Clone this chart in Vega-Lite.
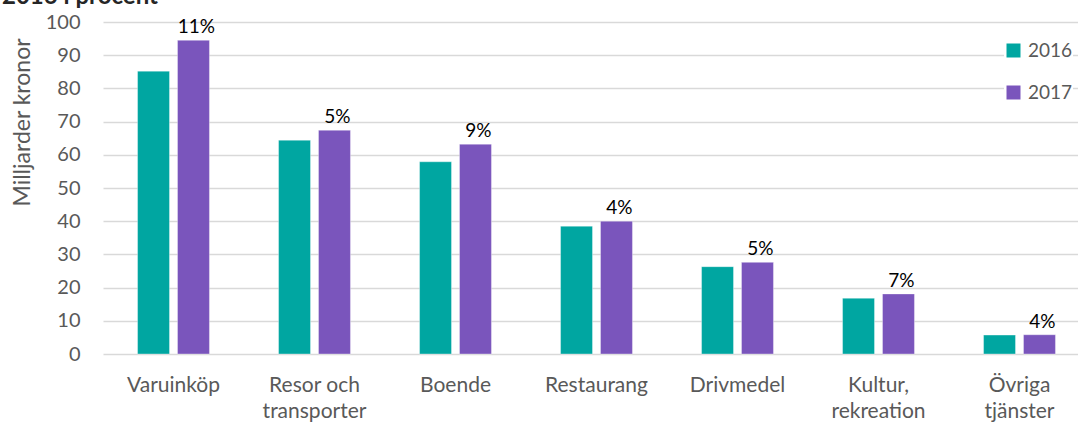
{
  "$schema": "https://vega.github.io/schema/vega-lite/v6.json",
  "autosize": {"type": "none"},
  "padding": {"left": 103, "top": 22, "right": 0, "bottom": 70},
  "width": 987,
  "height": 332,
  "background": "#ffffff",
  "title": {
    "text": "2016 i procent",
    "anchor": "start",
    "frame": "group",
    "font": "Lato",
    "fontSize": 24,
    "fontWeight": "bold",
    "color": "#262626",
    "baseline": "alphabetic",
    "offset": -4,
    "dy": 12,
    "dx": -101
  },
  "config": {
    "view": {"stroke": null},
    "font": "Lato"
  },
  "data": {
    "values": [
      {"kategori": "Varuinköp", "år": "2016", "värde": 85.2, "label": null},
      {"kategori": "Varuinköp", "år": "2017", "värde": 94.5, "label": "11%"},
      {"kategori": "Resor och transporter", "år": "2016", "värde": 64.4, "label": null},
      {"kategori": "Resor och transporter", "år": "2017", "värde": 67.4, "label": "5%"},
      {"kategori": "Boende", "år": "2016", "värde": 57.9, "label": null},
      {"kategori": "Boende", "år": "2017", "värde": 63.2, "label": "9%"},
      {"kategori": "Restaurang", "år": "2016", "värde": 38.5, "label": null},
      {"kategori": "Restaurang", "år": "2017", "värde": 40.0, "label": "4%"},
      {"kategori": "Drivmedel", "år": "2016", "värde": 26.3, "label": null},
      {"kategori": "Drivmedel", "år": "2017", "värde": 27.6, "label": "5%"},
      {"kategori": "Kultur, rekreation", "år": "2016", "värde": 16.8, "label": null},
      {"kategori": "Kultur, rekreation", "år": "2017", "värde": 18.1, "label": "7%"},
      {"kategori": "Övriga tjänster", "år": "2016", "värde": 5.7, "label": null},
      {"kategori": "Övriga tjänster", "år": "2017", "värde": 5.8, "label": "4%"}
    ]
  },
  "encoding": {
    "x": {
      "field": "kategori",
      "type": "nominal",
      "sort": null,
      "scale": {"paddingInner": 0.49, "paddingOuter": 0.245},
      "axis": {
        "title": null,
        "labelAngle": 0,
        "domain": false,
        "ticks": false,
        "labelFont": "Lato",
        "labelFontSize": 21,
        "labelColor": "#595959",
        "labelPadding": 20,
        "labelBaseline": "top",
        "labelLineHeight": 26,
        "labelExpr": "datum.value == 'Resor och transporter' ? ['Resor och', 'transporter'] : datum.value == 'Kultur, rekreation' ? ['Kultur,', 'rekreation'] : datum.value == 'Övriga tjänster' ? ['Övriga', 'tjänster'] : datum.value"
      }
    },
    "xOffset": {
      "field": "år",
      "type": "nominal",
      "scale": {"paddingInner": 0.2, "paddingOuter": 0}
    },
    "y": {
      "field": "värde",
      "type": "quantitative",
      "scale": {"domain": [0, 100]},
      "axis": {
        "title": "Milljarder kronor",
        "titleFont": "Lato",
        "titleFontSize": 23,
        "titleFontWeight": "normal",
        "titleColor": "#595959",
        "titleAngle": -90,
        "titleAlign": "center",
        "titleBaseline": "middle",
        "titleX": -81,
        "titleY": 100,
        "values": [0, 10, 20, 30, 40, 50, 60, 70, 80, 90, 100],
        "domain": false,
        "ticks": false,
        "labelFont": "Lato",
        "labelFontSize": 20,
        "labelColor": "#595959",
        "labelPadding": 23,
        "grid": true,
        "gridColor": "#d9d9d9",
        "gridWidth": 1.5
      }
    }
  },
  "layer": [
    {
      "mark": {"type": "bar", "stroke": "#ffffff", "strokeWidth": 0.6, "strokeOpacity": 0.6},
      "encoding": {
        "color": {
          "field": "år",
          "type": "nominal",
          "scale": {"domain": ["2016", "2017"], "range": ["#00a6a1", "#7a55bc"]},
          "legend": {
            "title": null,
            "orient": "none",
            "legendX": 901,
            "legendY": 19,
            "symbolType": "square",
            "symbolSize": 196,
            "symbolStrokeWidth": 0,
            "labelFont": "Lato",
            "labelFontSize": 19,
            "labelColor": "#595959",
            "labelOffset": 5,
            "rowPadding": 22,
            "fillColor": "#ffffff",
            "padding": 0
          }
        }
      }
    },
    {
      "transform": [{"filter": "datum.label != null"}],
      "mark": {"type": "text", "baseline": "bottom", "dy": -3, "dx": 3, "font": "Lato", "fontSize": 19, "color": "#000000"},
      "encoding": {
        "text": {"field": "label", "type": "nominal"}
      }
    }
  ]
}
